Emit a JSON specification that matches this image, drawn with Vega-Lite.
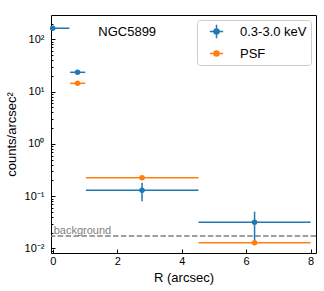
{
  "$schema": "https://vega.github.io/schema/vega-lite/v6.json",
  "width": 265,
  "height": 238,
  "autosize": "none",
  "padding": {"left": 51, "top": 15, "right": 8, "bottom": 38},
  "background": "white",
  "config": {
    "font": "Liberation Sans",
    "view": {"stroke": "black", "strokeWidth": 1},
    "axis": {"domain": false, "grid": false, "labelFont": "Liberation Sans", "titleFont": "Liberation Sans", "labelColor": "black", "titleColor": "black", "tickColor": "black", "labelFontSize": 11, "titleFontSize": 13, "titleFontWeight": "normal"},
    "legend": {"labelFont": "Liberation Sans"}
  },
  "datasets": {
    "profile": [
      {"series": "0.3-3.0 keV", "x": 0.0, "x_lo": -0.5, "x_hi": 0.52, "y": 162},
      {"series": "0.3-3.0 keV", "x": 0.77, "x_lo": 0.54, "x_hi": 1.01, "y": 23.4},
      {"series": "0.3-3.0 keV", "x": 2.77, "x_lo": 1.03, "x_hi": 4.52, "y": 0.13, "y_lo": 0.08, "y_hi": 0.18},
      {"series": "0.3-3.0 keV", "x": 6.26, "x_lo": 4.52, "x_hi": 8.0, "y": 0.0316, "y_lo": 0.0133, "y_hi": 0.0506},
      {"series": "PSF", "x": 0.77, "x_lo": 0.54, "x_hi": 1.01, "y": 14.4},
      {"series": "PSF", "x": 2.77, "x_lo": 1.03, "x_hi": 4.52, "y": 0.225},
      {"series": "PSF", "x": 6.26, "x_lo": 4.52, "x_hi": 8.0, "y": 0.0129}
    ],
    "bkg": [{"x": 0, "y": 0.0173, "label": "background"}],
    "name": [{"x": 2.31, "y": 140, "label": "NGC5899"}]
  },
  "layer": [
    {
      "data": {"name": "bkg"},
      "mark": {"type": "rule", "color": "#808080", "strokeWidth": 1.5, "strokeDash": [5.5, 2.4]},
      "encoding": {
        "y": {"field": "y", "type": "quantitative", "scale": {"type": "log", "domain": [0.0082, 291.7], "nice": false},
          "axis": {
            "title": "counts/arcsec²",
            "values": [0.009, 0.01, 0.02, 0.03, 0.04, 0.05, 0.06, 0.07, 0.08, 0.09, 0.1, 0.2, 0.3, 0.4, 0.5, 0.6, 0.7, 0.8, 0.9, 1, 2, 3, 4, 5, 6, 7, 8, 9, 10, 20, 30, 40, 50, 60, 70, 80, 90, 100, 200],
            "labelExpr": "datum.value == 100 ? '10²' : datum.value == 10 ? '10¹' : datum.value == 1 ? '10⁰' : datum.value == 0.1 ? '10⁻¹' : datum.value == 0.01 ? '10⁻²' : ''",
            "tickSize": {"condition": {"test": "indexof([0.01, 0.1, 1, 10, 100], datum.value) >= 0", "value": -4}, "value": -2},
            "labelPadding": 11,
            "labelOverlap": false,
            "labelBound": false,
            "titlePadding": 6
          }
        }
      }
    },
    {
      "data": {"name": "bkg"},
      "mark": {"type": "text", "color": "#808080", "fontSize": 11, "align": "left", "baseline": "bottom", "dx": 1},
      "encoding": {
        "x": {"field": "x", "type": "quantitative"},
        "y": {"field": "y", "type": "quantitative"},
        "text": {"field": "label"}
      }
    },
    {
      "data": {"name": "profile"},
      "mark": {"type": "point", "filled": true, "opacity": 0},
      "encoding": {
        "x": {"field": "x", "type": "quantitative", "scale": {"domain": [-0.053, 8.165], "nice": false, "zero": false},
          "axis": {"title": "R (arcsec)", "values": [0, 2, 4, 6, 8], "tickSize": -4, "labelPadding": 6, "titlePadding": 5}},
        "y": {"field": "y", "type": "quantitative"},
        "color": {"field": "series", "type": "nominal", "scale": {"domain": ["0.3-3.0 keV", "PSF"], "range": ["#1f77b4", "#ff7f0e"]},
          "legend": {"title": null, "orient": "top-right", "offset": 5, "padding": 4, "strokeColor": "#cccccc", "fillColor": "white", "cornerRadius": 3,
            "symbolSize": 177, "symbolStrokeWidth": 1.5, "symbolOpacity": 1, "symbolOffset": 8, "labelOffset": 16, "labelFontSize": 13, "rowPadding": 4,
            "encode": {"symbols": {"update": {"fill": {"scale": "color", "field": "value"}, "stroke": {"scale": "color", "field": "value"}, "opacity": {"value": 1}}}}}},
        "shape": {"field": "series", "type": "nominal",
          "scale": {"domain": ["0.3-3.0 keV", "PSF"], "range": ["M-1,0H1M0,-1V1M-0.38,0A0.38,0.38 0 1,0 0.38,0A0.38,0.38 0 1,0 -0.38,0Z", "M-1,0H1M-0.38,0A0.38,0.38 0 1,0 0.38,0A0.38,0.38 0 1,0 -0.38,0Z"]}}
      }
    },
    {
      "data": {"name": "profile"},
      "mark": {"type": "rule", "strokeWidth": 1.5, "clip": true},
      "encoding": {
        "x": {"field": "x_lo", "type": "quantitative"},
        "x2": {"field": "x_hi"},
        "y": {"field": "y", "type": "quantitative"},
        "color": {"field": "series", "type": "nominal"}
      }
    },
    {
      "data": {"name": "profile"},
      "transform": [{"filter": "isValid(datum.y_lo)"}],
      "mark": {"type": "rule", "strokeWidth": 1.5},
      "encoding": {
        "x": {"field": "x", "type": "quantitative"},
        "y": {"field": "y_lo", "type": "quantitative"},
        "y2": {"field": "y_hi"},
        "color": {"field": "series", "type": "nominal"}
      }
    },
    {
      "data": {"name": "profile"},
      "mark": {"type": "circle", "size": 30, "opacity": 1},
      "encoding": {
        "x": {"field": "x", "type": "quantitative"},
        "y": {"field": "y", "type": "quantitative"},
        "color": {"field": "series", "type": "nominal"}
      }
    },
    {
      "data": {"name": "name"},
      "mark": {"type": "text", "fontSize": 13, "color": "black", "align": "center", "baseline": "middle"},
      "encoding": {
        "x": {"field": "x", "type": "quantitative"},
        "y": {"field": "y", "type": "quantitative"},
        "text": {"field": "label"}
      }
    }
  ]
}
